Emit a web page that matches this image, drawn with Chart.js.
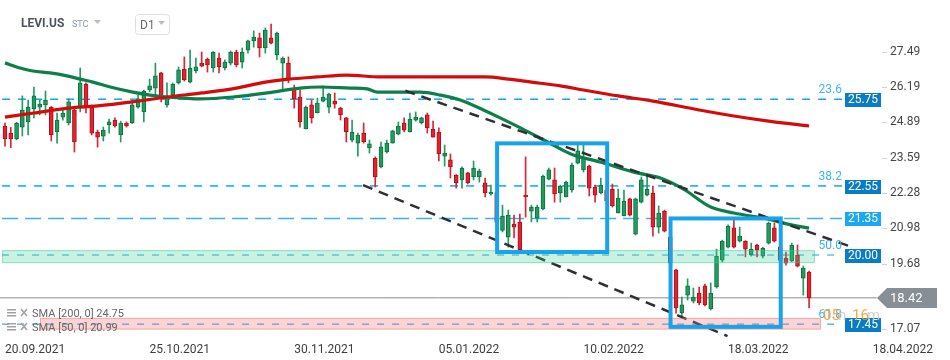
<!DOCTYPE html>
<html>
<head>
<meta charset="utf-8">
<title>LEVI.US D1</title>
<script src="https://cdn.jsdelivr.net/npm/chart.js@4.4.1/dist/chart.umd.min.js"></script>
<style>
  html, body { margin: 0; padding: 0; background: #fff; }
  #wrap { position: relative; width: 950px; height: 360px; }
</style>
</head>
<body>
<div id="wrap"><canvas id="chart" width="950" height="360"></canvas></div>
<script>
// daily candles, bar 0 = 20.09.2021
const opens = [24.76, 24.50, 24.28, 24.72, 24.91, 25.39, 25.46, 25.54, 25.46, 24.54,
  25.09, 24.87, 25.35, 25.46, 26.31, 25.46, 24.54, 24.39, 24.80, 24.98,
  24.43, 24.87, 24.87, 25.46, 25.28, 26.09, 26.16, 26.72, 25.54, 25.90,
  26.35, 26.86, 26.38, 26.79, 27.08, 27.23, 26.90, 27.27, 26.90, 27.08,
  27.49, 27.12, 27.56, 27.90, 28.01, 27.64, 28.01, 27.38, 27.08, 27.08,
  26.16, 25.83, 24.65, 25.54, 25.24, 25.68, 25.46, 25.68, 25.42, 25.06,
  24.24, 24.13, 24.50, 23.95, 23.58, 23.25, 23.80, 24.13, 24.46, 24.87,
  24.54, 24.98, 24.87, 25.17, 24.65, 24.54, 23.65, 23.51, 22.95, 22.77,
  23.03, 22.88, 22.88, 22.66, 22.25, 22.30, 20.91, 20.66, 21.14, 21.22,
  22.21, 21.62, 21.36, 21.70, 22.80, 22.77, 22.29, 22.14, 22.40, 23.39,
  23.14, 23.28, 22.51, 22.29, 22.40, 22.43, 21.55, 21.44, 22.07, 20.77,
  21.95, 22.21, 22.29, 21.03, 21.62, 20.66, 19.45, 17.86, 18.52, 18.30,
  18.60, 18.86, 18.01, 18.82, 19.81, 20.29, 21.00, 20.51, 20.51, 20.00,
  20.37, 19.96, 20.44, 21.00, 20.30, 19.89, 19.78, 20.00, 19.15, 19.37];
const highs = [24.87, 24.71, 24.90, 25.87, 25.72, 26.20, 25.72, 26.05, 25.48, 25.24,
  25.35, 25.76, 25.46, 26.90, 26.35, 25.54, 24.61, 24.72, 25.02, 25.06,
  24.94, 24.91, 25.72, 25.90, 26.09, 26.49, 27.08, 26.74, 26.35, 26.35,
  26.94, 27.31, 27.56, 27.27, 27.49, 27.27, 27.51, 27.45, 27.20, 27.53,
  27.56, 27.64, 27.93, 28.27, 28.19, 28.38, 28.52, 28.23, 27.31, 27.31,
  26.27, 26.09, 25.50, 25.72, 25.79, 26.24, 25.98, 25.98, 25.46, 25.08,
  24.98, 24.50, 24.87, 24.24, 23.62, 24.17, 24.24, 24.61, 24.91, 25.06,
  25.24, 25.28, 25.09, 25.24, 24.94, 24.69, 24.06, 23.73, 22.97, 23.25,
  23.05, 23.47, 23.17, 22.84, 22.58, 22.35, 21.84, 21.66, 21.47, 21.51,
  23.62, 21.84, 21.84, 22.95, 23.21, 23.21, 22.58, 22.73, 23.39, 24.06,
  24.06, 23.32, 22.58, 22.84, 22.60, 22.62, 22.43, 22.40, 22.10, 22.10,
  22.88, 22.92, 22.54, 21.81, 21.66, 20.74, 19.47, 18.45, 19.12, 18.78,
  18.82, 18.93, 18.97, 20.22, 20.55, 21.11, 21.29, 21.03, 20.53, 20.44,
  20.40, 20.29, 21.22, 21.18, 20.60, 20.11, 20.44, 20.37, 19.59, 19.41];
const lows = [24.02, 23.96, 24.25, 24.39, 24.43, 25.06, 25.17, 25.17, 24.21, 24.13,
  24.98, 24.80, 23.80, 25.28, 25.24, 24.43, 23.98, 24.21, 24.50, 24.72,
  24.17, 24.72, 24.85, 25.42, 24.91, 26.02, 25.83, 25.65, 25.46, 25.87,
  26.31, 26.42, 26.35, 26.72, 26.94, 26.75, 26.75, 26.72, 26.83, 27.01,
  26.94, 26.90, 27.45, 27.67, 27.31, 27.45, 27.79, 27.20, 26.09, 26.35,
  25.42, 24.72, 24.65, 24.87, 25.24, 25.65, 25.24, 25.42, 24.98, 24.17,
  24.17, 23.65, 24.13, 23.76, 22.51, 23.21, 23.76, 24.13, 24.43, 24.54,
  24.54, 24.94, 24.83, 24.50, 24.35, 23.47, 23.28, 22.84, 22.47, 22.47,
  22.62, 22.77, 22.69, 22.14, 22.21, 21.10, 20.85, 20.29, 20.63, 20.18,
  21.40, 21.22, 21.22, 21.66, 22.77, 21.95, 21.95, 22.14, 22.32, 23.36,
  23.06, 22.18, 21.95, 22.25, 21.90, 21.77, 21.55, 21.44, 21.44, 20.74,
  21.92, 22.18, 20.70, 20.81, 20.85, 19.66, 17.85, 17.68, 18.34, 18.23,
  18.16, 18.12, 17.97, 18.78, 19.74, 20.26, 20.26, 20.48, 19.93, 19.96,
  19.93, 19.89, 20.40, 20.48, 19.70, 19.63, 19.74, 19.56, 18.52, 18.05];
const closes = [24.28, 24.28, 24.87, 25.35, 25.46, 25.87, 25.57, 25.72, 24.43, 24.98,
  25.24, 25.65, 24.17, 26.35, 25.46, 24.50, 24.35, 24.61, 24.91, 24.76,
  24.87, 24.76, 25.54, 25.76, 26.05, 26.24, 26.61, 25.83, 25.83, 26.31,
  26.83, 26.46, 26.90, 26.94, 26.97, 27.01, 27.49, 26.94, 27.12, 27.49,
  27.01, 27.49, 27.90, 28.04, 27.64, 28.30, 27.82, 28.19, 27.27, 26.46,
  25.76, 24.91, 25.46, 25.06, 25.61, 25.83, 25.94, 25.57, 25.17, 24.54,
  24.54, 24.43, 24.17, 24.10, 22.88, 23.99, 24.13, 24.58, 24.76, 24.61,
  25.02, 25.09, 25.06, 24.69, 24.35, 23.73, 23.76, 23.25, 22.66, 23.21,
  22.66, 23.21, 23.10, 22.29, 22.32, 21.20, 21.44, 21.47, 21.03, 20.20,
  22.14, 21.77, 21.77, 22.91, 23.14, 22.25, 22.54, 22.69, 23.32, 23.84,
  23.62, 22.47, 22.21, 22.58, 22.00, 21.81, 22.10, 21.99, 21.47, 22.07,
  22.77, 22.43, 21.03, 21.55, 20.88, 19.70, 18.05, 18.16, 18.86, 18.45,
  18.23, 18.16, 18.60, 19.96, 20.51, 21.07, 20.29, 20.70, 20.22, 20.22,
  20.18, 20.26, 21.18, 20.51, 19.80, 19.70, 20.37, 19.59, 19.52, 18.42];

// date labels every 25 bars
const dateTicks = [0, 25, 50, 75, 100, 125, 150];
const dateLabels = ["20.09.2021", "25.10.2021", "30.11.2021", "05.01.2022", "10.02.2022", "18.03.2022", "18.04.2022"];

// price axis labels
const priceTicks = [27.49, 26.19, 24.89, 23.59, 22.28, 20.98, 19.68, 17.07];

// moving averages (bar index, value)
const sma200Idx = [0, 5, 11, 16, 22, 28, 34, 40, 45, 49, 54, 59, 65, 74, 83, 87, 91, 96, 100, 103, 106, 112, 120, 126, 132, 139];
const sma200 = [25.09, 25.24, 25.42, 25.50, 25.65, 25.83, 25.98, 26.16, 26.38, 26.49, 26.57, 26.64, 26.57, 26.57, 26.57, 26.49, 26.38, 26.24, 26.09, 25.98, 25.87, 25.68, 25.35, 25.13, 24.94, 24.76];
const sma50Idx = [0, 2.6, 4.8, 7.8, 10.7, 13, 15.2, 18.2, 22.1, 25.1, 28, 30.8, 33.7, 39.4, 45.3, 51, 54.5, 59.7, 62.6, 64.4, 71.8, 75.3, 78.7, 82.7, 85.6, 89.1, 93.8, 97.8, 102.9, 108.7, 113.3, 117.3, 122, 126, 131.8, 135.3, 139];
const sma50 = [27.09, 26.90, 26.79, 26.72, 26.61, 26.49, 26.38, 26.20, 26.01, 25.90, 25.83, 25.79, 25.76, 25.83, 25.98, 26.16, 26.20, 26.16, 26.13, 26.01, 26.01, 25.90, 25.72, 25.35, 25.06, 24.69, 24.17, 23.73, 23.43, 23.06, 22.84, 22.43, 21.77, 21.55, 21.33, 21.14, 20.99];

// fibo levels
const levels = [25.75, 22.55, 21.35, 20.00, 17.45];
const levelFibo = ["23.6", "38.2", "", "50.0", "61.8"];
const lastPrice = 18.42;

// trend lines: start bar, start price, end bar, end price
const upperTrend = [69.2, 26.06, 145.8, 20.34];
const lowerTrend = [61.9, 22.58, 124.9, 17.01];

// rectangles: from bar, to bar, top price, bottom price
const boxes = [[85.07, 104.1, 24.12, 20.11], [115.05, 134.1, 21.35, 17.35]];
const greenZone = [-0.5, 140, 20.18, 19.70];
const redZone = [6.05, 141.05, 17.68, 17.25];

const idx = opens.map((_, i) => i);
const isUp = idx.map(i => closes[i] >= opens[i]);
const bodyColor = idx.map(i => isUp[i] ? "#1f9d5f" : "#e3212f");
const edgeColor = idx.map(i => isUp[i] ? "#0f6f41" : "#a5131d");

const levelEnd = 144.7;
const levelStyle = [
    { color: "#12a5ef", dash: [8, 8], width: 1.5 },
    { color: "#12a5ef", dash: [8, 8], width: 1.5 },
    { color: "#3cb1ec", dash: [16, 7], width: 1.5 },
    { color: "#1a9fe6", dash: [7, 8], width: 1 },
    { color: "#1a8fdc", dash: [7, 8], width: 1 }
];

Chart.defaults.font.family = "Roboto, 'Open Sans', sans-serif";

function segment(a, b, c, d) {
    return [{ x: a, y: b }, { x: c, y: d }];
}

const datasets = [];

levels.forEach((lv, k) => {
    datasets.push({
        type: "line",
        data: segment(-0.5, lv, levelEnd, lv),
        borderColor: levelStyle[k].color,
        borderWidth: levelStyle[k].width,
        borderDash: levelStyle[k].dash,
        pointRadius: 0,
        order: 30
    });
});

datasets.push({
    type: "line",
    data: segment(-0.9, lastPrice, 150.7, lastPrice),
    borderColor: "#8e8e8e",
    borderWidth: 1,
    pointRadius: 0,
    order: 30
});

datasets.push({
    type: "bar",
    data: idx.map(i => ({ x: i, y: [lows[i], highs[i]] })),
    backgroundColor: bodyColor,
    barThickness: 1,
    grouped: false,
    order: 20
});

datasets.push({
    type: "bar",
    data: idx.map(i => ({ x: i, y: [opens[i], closes[i]] })),
    backgroundColor: bodyColor,
    borderColor: edgeColor,
    borderWidth: 1,
    borderSkipped: false,
    barThickness: 4,
    minBarLength: 1,
    grouped: false,
    order: 19
});

datasets.push({
    type: "line",
    data: sma200Idx.map((v, k) => ({ x: v, y: sma200[k] })),
    borderColor: "#d50b0b",
    borderWidth: 3.2,
    pointRadius: 0,
    cubicInterpolationMode: "monotone",
    order: 10
});

datasets.push({
    type: "line",
    data: sma50Idx.map((v, k) => ({ x: v, y: sma50[k] })),
    borderColor: "#0e7e4a",
    borderWidth: 3.2,
    pointRadius: 0,
    cubicInterpolationMode: "monotone",
    order: 10
});

[upperTrend, lowerTrend].forEach(t => {
    datasets.push({
        type: "line",
        data: segment(t[0], t[1], t[2], t[3]),
        borderColor: "#2d3136",
        borderWidth: 2.5,
        borderDash: [10, 7],
        pointRadius: 0,
        order: 5
    });
});

// zones, boxes and all the labels around the price axis
const overlay = {
    id: "overlay",
    afterDatasetsDraw(chart) {
        const { ctx, scales: { x, y } } = chart;
        ctx.save();

        function zone(z, fill, edge) {
            const x0 = x.getPixelForValue(z[0]), x1 = x.getPixelForValue(z[1]);
            const y0 = y.getPixelForValue(z[2]), y1 = y.getPixelForValue(z[3]);
            ctx.fillStyle = fill;
            ctx.fillRect(x0, y0, x1 - x0, y1 - y0);
            ctx.strokeStyle = edge;
            ctx.lineWidth = 1;
            ctx.strokeRect(x0 + 0.5, y0 + 0.5, x1 - x0 - 1, y1 - y0 - 1);
        }
        zone(greenZone, "rgba(60, 210, 150, 0.28)", "rgba(60, 200, 140, 0.45)");
        zone(redZone, "rgba(240, 110, 110, 0.29)", "rgba(235, 110, 110, 0.45)");

        ctx.strokeStyle = "#19a4ea";
        ctx.lineWidth = 4;
        boxes.forEach(b => {
            const x0 = x.getPixelForValue(b[0]), x1 = x.getPixelForValue(b[1]);
            const y0 = y.getPixelForValue(b[2]), y1 = y.getPixelForValue(b[3]);
            ctx.strokeRect(x0, y0, x1 - x0, y1 - y0);
        });
        ctx.restore();
    },
    afterDraw(chart) {
        const { ctx, scales: { y } } = chart;
        ctx.save();

        // price axis
        ctx.font = "12px Roboto";
        ctx.textBaseline = "middle";
        ctx.textAlign = "left";
        priceTicks.forEach(t => {
            if (Math.abs(t - lastPrice) < 0.3) return;
            const py = Math.min(y.getPixelForValue(t), 329);
            ctx.fillStyle = "#d4d4d4";
            ctx.fillRect(882, Math.round(py), 5, 1);
            ctx.fillStyle = "#454545";
            ctx.fillText(t.toFixed(2), 890, py);
        });

        // fibo texts and value boxes
        levels.forEach((lv, k) => {
            const py = y.getPixelForValue(lv);
            if (levelFibo[k]) {
                ctx.font = "12px Roboto";
                ctx.textAlign = "right";
                ctx.fillStyle = "#3db5ef";
                ctx.fillText(levelFibo[k], 842, py - 9);
            }
            ctx.fillStyle = k === 2 ? "#1aa8ef" : "#0a7cc1";
            ctx.fillRect(845, Math.round(py) - 6, 36, 14);
            ctx.fillStyle = "#ffffff";
            ctx.textAlign = "center";
            ctx.font = "12px Roboto";
            ctx.fillText(lv.toFixed(2), 863, Math.round(py) + 1);
        });

        // last price marker
        const lp = Math.round(y.getPixelForValue(lastPrice));
        ctx.fillStyle = "#878e95";
        ctx.beginPath();
        ctx.moveTo(877, lp);
        ctx.lineTo(887, lp - 10);
        ctx.lineTo(937, lp - 10);
        ctx.lineTo(937, lp + 10);
        ctx.lineTo(887, lp + 10);
        ctx.closePath();
        ctx.fill();
        ctx.fillStyle = "#ffffff";
        ctx.font = "13px Roboto";
        ctx.textAlign = "left";
        ctx.fillText(lastPrice.toFixed(2), 890, lp + 1);

        // candle countdown
        ctx.font = "15px Roboto";
        ctx.textBaseline = "alphabetic";
        ctx.globalAlpha = 0.85;
        ctx.fillStyle = "#f39a22";
        ctx.fillText("05", 823, 320);
        ctx.fillStyle = "#c9c9c9";
        ctx.fillText("h", 838, 320);
        ctx.fillStyle = "#f39a22";
        ctx.fillText("16", 852, 320);
        ctx.fillStyle = "#c9c9c9";
        ctx.fillText("m", 867, 320);
        ctx.globalAlpha = 1;

        // header
        ctx.font = "bold 12px Roboto";
        ctx.fillStyle = "#4d535a";
        ctx.fillText("LEVI.US", 21, 27);
        ctx.font = "9px Roboto";
        ctx.fillStyle = "#8a98a6";
        ctx.fillText("STC", 72, 27);
        ctx.fillStyle = "#bdbdbd";
        [[94, 20], [158, 21]].forEach(p => {
            ctx.beginPath();
            ctx.moveTo(p[0], p[1]);
            ctx.lineTo(p[0] + 7, p[1]);
            ctx.lineTo(p[0] + 3.5, p[1] + 4);
            ctx.closePath();
            ctx.fill();
        });
        ctx.strokeStyle = "#dedede";
        ctx.lineWidth = 1;
        ctx.beginPath();
        ctx.roundRect(135.5, 14.5, 34, 20, 3);
        ctx.stroke();
        ctx.font = "12px Roboto";
        ctx.fillStyle = "#6a6a6a";
        ctx.fillText("D1", 140, 29);

        // indicator legend
        [["SMA [200, 0] 24.75", 317], ["SMA [50, 0] 20.99", 331]].forEach(r => {
            const by = r[1];
            ctx.fillStyle = "#a0a0a0";
            ctx.fillRect(7, by - 8, 9, 1.5);
            ctx.fillRect(7, by - 5, 9, 1.5);
            ctx.fillRect(7, by - 2, 9, 1.5);
            ctx.strokeStyle = "#a0a0a0";
            ctx.lineWidth = 1.5;
            ctx.beginPath();
            ctx.moveTo(21, by - 8); ctx.lineTo(27, by - 1);
            ctx.moveTo(27, by - 8); ctx.lineTo(21, by - 1);
            ctx.stroke();
            ctx.font = "11px Roboto";
            ctx.fillStyle = "#676767";
            ctx.fillText(r[0], 32, by);
        });
        ctx.restore();
    }
};

new Chart(document.getElementById("chart"), {
    type: "bar",
    data: { datasets: datasets },
    options: {
        responsive: false,
        animation: false,
        events: [],
        layout: { padding: 0 },
        plugins: { legend: { display: false }, tooltip: { enabled: false } },
        scales: {
            x: {
                type: "linear",
                min: -0.864,
                max: 163.36,
                offset: false,
                grid: { display: false },
                border: { display: false },
                afterBuildTicks: (scale) => {
                    scale.ticks = dateTicks.map(v => ({ value: v }));
                },
                afterFit: (scale) => {
                    scale.height = 23;
                },
                ticks: {
                    autoSkip: false,
                    maxRotation: 0,
                    align: "start",
                    padding: -2,
                    color: "#3d3d3d",
                    font: { size: 12 },
                    callback: (v) => dateLabels[dateTicks.indexOf(v)]
                }
            },
            y: {
                type: "linear",
                min: 16.975,
                max: 29.41,
                display: false
            }
        }
    },
    plugins: [overlay]
});
</script>
</body>
</html>
